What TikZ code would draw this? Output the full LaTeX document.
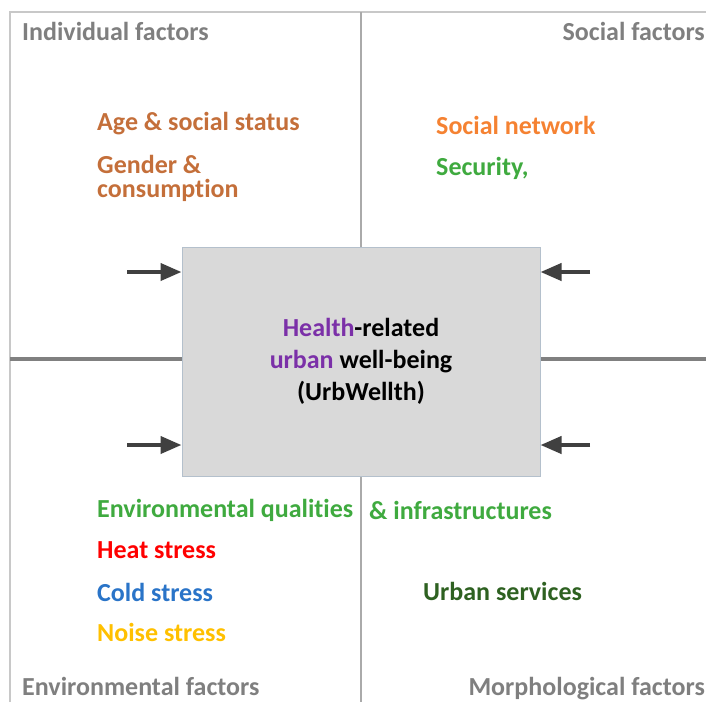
\documentclass[tikz,border=0pt]{standalone}
\usepackage{fontspec}
\setmainfont[Ligatures=NoCommon]{Carlito}
\usepackage{xcolor}
\usepackage{tikz}
\usetikzlibrary{arrows.meta,positioning}
\definecolor{framegray}{HTML}{C8C8C8}
\definecolor{axisgray}{HTML}{808080}
\definecolor{titlegray}{HTML}{7F7F7F}
\definecolor{arrowgray}{HTML}{404040}
\definecolor{boxfill}{HTML}{D9D9D9}
\definecolor{boxline}{HTML}{B4C0CC}
\definecolor{brownorange}{HTML}{C46F3A}
\definecolor{netorange}{HTML}{F58232}
\definecolor{qualgreen}{HTML}{3FAA3F}
\definecolor{servgreen}{HTML}{2E6121}
\definecolor{heatred}{HTML}{FF0000}
\definecolor{coldblue}{HTML}{2A74C8}
\definecolor{noisegold}{HTML}{FFC000}
\definecolor{wellpurple}{HTML}{7B30A8}

\tikzset{
	factor/.style={font=\bfseries\fontsize{26}{31}\selectfont,text=titlegray,inner sep=0pt},
	item/.style={font=\bfseries\fontsize{26}{24}\selectfont,inner sep=0pt,anchor=west},
	inarrow/.style={line width=4pt,draw=arrowgray,-{Triangle[length=21pt,width=17pt]}}
}

\begin{document}
\begin{tikzpicture}[x=1pt,y=-1pt]
	\useasboundingbox (0,0) rectangle (706,702);
	% quadrant frame
	\draw[framegray,line width=1.5pt] (10,702) -- (10,12) -- (706,12);
	\draw[framegray!85!black,line width=1.5pt] (361,12) -- (361,702);
	\draw[axisgray,line width=4pt] (10,359) -- (706,359);
	% central box
	\node[draw=boxline,fill=boxfill,line width=1pt,minimum width=358pt,minimum height=229pt,inner sep=0pt,
		align=center,font=\bfseries\fontsize{26}{32}\selectfont] (wellth) at (361,361.5)
		{\textcolor{wellpurple}{Health}-related\\ \textcolor{wellpurple}{urban} well-being\\ (UrbWellth)};
	% factor titles
	\node[factor,anchor=base west] (indiv) at (22,40) {Individual factors};
	\node[factor,anchor=base east] (social) at (705,40) {Social factors};
	\node[factor,anchor=base west] (envir) at (22,695) {Environmental factors};
	\node[factor,anchor=base east] (morph) at (705,695) {Morphological factors};
	% items
	\node[item,text=brownorange] (age) at (97,124) {Age \& social status};
	\node[item,text=brownorange,align=left] (gender) at (97,178) {Gender \&\\consumption};
	\node[item,text=netorange] (network) at (436,125) {Social network};
	\node[item,text=qualgreen] (security) at (436,168) {Security,};
	\node[item,text=qualgreen] (quality) at (97,510) {Environmental qualities};
	\node[item,text=qualgreen] (infra) at (369,510) {\& infrastructures};
	\node[item,text=heatred] (heat) at (97,550) {Heat stress};
	\node[item,text=coldblue] (cold) at (97,592) {Cold stress};
	\node[item,text=noisegold] (noise) at (97,632) {Noise stress};
	\node[item,text=servgreen] (services) at (423,591) {Urban services};
	% arrows into the box
	\coordinate (inUL) at (127,272);
	\coordinate (inLL) at (127,445);
	\coordinate (inUR) at (590,272);
	\coordinate (inLR) at (590,445);
	\draw[inarrow] (inUL) -- (wellth.west |- inUL);
	\draw[inarrow] (inLL) -- (wellth.west |- inLL);
	\draw[inarrow] (inUR) -- (wellth.east |- inUR);
	\draw[inarrow] (inLR) -- (wellth.east |- inLR);
\end{tikzpicture}
\end{document}
